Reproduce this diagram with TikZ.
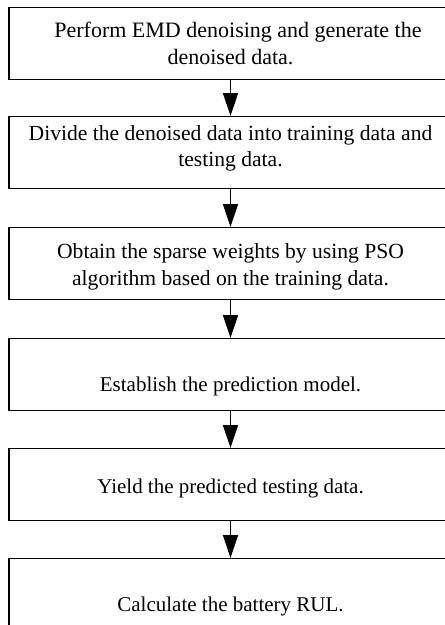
\documentclass[tikz,border=0pt]{standalone}
\usepackage{fontspec}
\setmainfont{Liberation Serif}
\usetikzlibrary{arrows.meta}
\begin{document}
\begin{tikzpicture}[x=1pt,y=1pt,
  stepbox/.style={draw=black,line width=1.3pt,minimum width=443pt,minimum height=72pt,inner sep=0pt,anchor=north},
  steptext/.style={align=center,inner sep=0pt,anchor=base,font=\fontsize{21.6}{26.7}\selectfont},
  onetext/.style={steptext,font=\fontsize{21}{26.7}\selectfont},
  flow/.style={line width=1.3pt,-{Triangle[length=23pt,width=15pt]}}]
\useasboundingbox (0,0) rectangle (445,-625);
\node[stepbox] (b1) at (230.5,-7) {};
\node[stepbox] (b2) at (230.5,-116) {};
\node[stepbox] (b3) at (230.5,-227) {};
\node[stepbox] (b4) at (230.5,-338) {};
\node[stepbox] (b5) at (230.5,-448) {};
\node[stepbox] (b6) at (230.5,-558) {};
\node[steptext,font=\fontsize{22}{26.7}\selectfont] (t1) at (230.5,-64.3) {\hspace*{15pt}Perform EMD denoising and generate the\\denoised data.};
\node[steptext] (t2) at (230.5,-166.7) {Divide the denoised data into training data and\\testing data.};
\node[steptext] (t3) at (230.5,-285) {Obtain the sparse weights by using PSO\\algorithm based on the training data.};
\node[onetext] (t4) at (230.5,-391) {Establish the prediction model.};
\node[onetext] (t5) at (230.5,-493.3) {Yield the predicted testing data.};
\node[onetext] (t6) at (230.5,-611.7) {Calculate the battery RUL.};
\draw[flow] (b1.south) -- (b2.north);
\draw[flow] (b2.south) -- (b3.north);
\draw[flow] (b3.south) -- (b4.north);
\draw[flow] (b4.south) -- (b5.north);
\draw[flow] (b5.south) -- (b6.north);
\end{tikzpicture}
\end{document}
